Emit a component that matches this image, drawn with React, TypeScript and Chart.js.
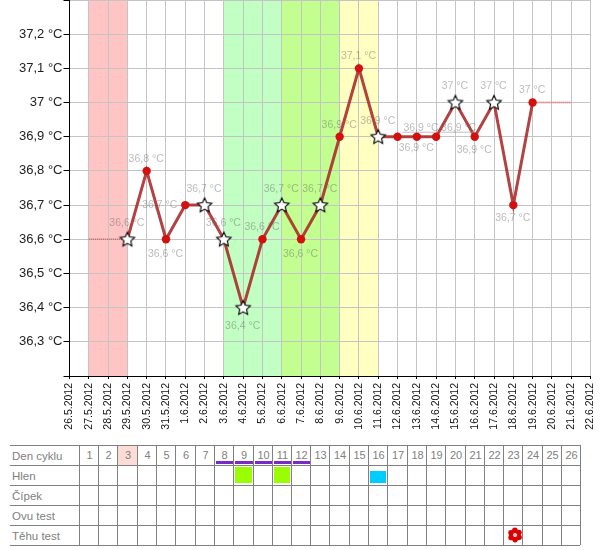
import React, { useEffect, useRef } from "react";
import { Chart, registerables } from "chart.js";

Chart.register(...registerables);

const dates = ["26.5.2012","27.5.2012","28.5.2012","29.5.2012","30.5.2012","31.5.2012","1.6.2012","2.6.2012","3.6.2012","4.6.2012","5.6.2012","6.6.2012","7.6.2012","8.6.2012","9.6.2012","10.6.2012","11.6.2012","12.6.2012","13.6.2012","14.6.2012","15.6.2012","16.6.2012","17.6.2012","18.6.2012","19.6.2012","20.6.2012","21.6.2012","22.6.2012"];
const temperatures: (number | null)[] = [null,null,null,36.6,36.8,36.6,36.7,36.7,36.6,36.4,36.6,36.7,36.6,36.7,36.9,37.1,36.9,36.9,36.9,36.9,37,36.9,37,36.7,37,null,null,null];
const starDates = ["29.5.2012","2.6.2012","3.6.2012","4.6.2012","6.6.2012","8.6.2012","11.6.2012","15.6.2012","17.6.2012"];
const dottedStart: (number | null)[] = [null,36.6,36.6,36.6,null,null,null,null,null,null,null,null,null,null,null,null,null,null,null,null,null,null,null,null,null,null,null,null];
const dottedEnd: (number | null)[] = [null,null,null,null,null,null,null,null,null,null,null,null,null,null,null,null,null,null,null,null,null,null,null,null,37,37,37,null];

const bands = [
  { from: "27.5.2012", to: "29.5.2012", color: "#ffc4c4" },
  { from: "3.6.2012", to: "6.6.2012", color: "#c2ffc2" },
  { from: "6.6.2012", to: "9.6.2012", color: "#c2ff90" },
  { from: "9.6.2012", to: "11.6.2012", color: "#ffffc2" },
];

// label placement relative to the point, by date
const labelOffsets: Record<string, [number, number]> = {
  "29.5.2012": [0, -17], "30.5.2012": [0, -13], "31.5.2012": [0, 14], "1.6.2012": [-25, -1],
  "2.6.2012": [0, -17], "3.6.2012": [0, -17], "4.6.2012": [0, 17], "5.6.2012": [0, -13],
  "6.6.2012": [0, -17], "7.6.2012": [0, 14], "8.6.2012": [0, -17], "9.6.2012": [0, -13],
  "10.6.2012": [0, -13], "11.6.2012": [0, -17], "12.6.2012": [24, -10], "13.6.2012": [0, 10],
  "14.6.2012": [23, -10], "15.6.2012": [0, -17], "16.6.2012": [0, 12], "17.6.2012": [0, -17],
  "18.6.2012": [0, 12], "19.6.2012": [0, -13],
};
const connectorDates = ["12.6.2012", "14.6.2012"];

const cycleDays = Array.from({ length: 26 }, (_, i) => i + 1);
const rowNames = ["Den cyklu", "Hlen", "Čípek", "Ovu test", "Těhu test"];
const underlinedDays = [8, 9, 10, 11, 12];
const highlightedDay = 3;
const mucusGreenDays = [9, 11];
const mucusBlueDays = [16];
const pregnancyTestDays = [23];
const columnEdges = [79,98,117,137,156,175,195,214,233,253,272,291,310,329,349,368,387,407,426,445,465,484,503,522,542,561,580];

const fmt = (v: number) => v.toFixed(1).replace(/\.0$/, "").replace(".", ",") + " °C";

function makeStar(): HTMLCanvasElement {
  const size = 18;
  const c = document.createElement("canvas");
  c.width = size;
  c.height = size;
  const g = c.getContext("2d")!;
  g.beginPath();
  for (let i = 0; i < 10; i++) {
    const r = i % 2 === 0 ? 7.6 : 3.6;
    const a = -Math.PI / 2 + (i * Math.PI) / 5;
    const px = size / 2 + r * Math.cos(a);
    const py = size / 2 + 0.5 + r * Math.sin(a);
    if (i === 0) g.moveTo(px, py);
    else g.lineTo(px, py);
  }
  g.closePath();
  g.fillStyle = "#fff";
  g.fill();
  g.strokeStyle = "#000";
  g.lineWidth = 1.1;
  g.stroke();
  return c;
}

const bandPlugin = {
  id: "bands",
  beforeDraw(chart: any) {
    const { ctx, chartArea, scales } = chart;
    ctx.save();
    for (const b of bands) {
      const x0 = scales.x.getPixelForValue(dates.indexOf(b.from));
      const x1 = scales.x.getPixelForValue(dates.indexOf(b.to));
      ctx.fillStyle = b.color;
      ctx.fillRect(x0, chartArea.top, x1 - x0, chartArea.bottom - chartArea.top);
    }
    ctx.restore();
  },
};

const labelPlugin = {
  id: "pointLabels",
  afterDatasetsDraw(chart: any) {
    const { ctx } = chart;
    const meta = chart.getDatasetMeta(0);
    ctx.save();
    ctx.font = "10.5px 'Liberation Sans'";
    ctx.textAlign = "center";
    ctx.textBaseline = "middle";
    meta.data.forEach((pt: any, i: number) => {
      const v = temperatures[i];
      if (v == null) return;
      const [dx, dy] = labelOffsets[dates[i]] ?? [0, -13];
      if (connectorDates.includes(dates[i])) {
        ctx.strokeStyle = "rgba(150,150,150,0.6)";
        ctx.lineWidth = 1;
        ctx.beginPath();
        ctx.moveTo(pt.x + 5, pt.y - 4.5);
        ctx.lineTo(pt.x + dx + 14, pt.y - 4.5);
        ctx.stroke();
      }
      ctx.fillStyle = "rgba(90,90,90,0.42)";
      ctx.fillText(fmt(v), pt.x + dx - 0.5, pt.y + dy + 1);
    });
    ctx.restore();
  },
};

export default function App() {
  const ref = useRef<HTMLCanvasElement>(null);
  useEffect(() => {
    const star = makeStar();
    const chart = new Chart(ref.current!, {
      type: "line",
      data: {
        labels: dates,
        datasets: [
          {
            data: temperatures,
            borderColor: "rgba(170,40,40,0.88)",
            borderWidth: 3,
            tension: 0,
            spanGaps: false,
            pointStyle: (c: any) => (starDates.includes(dates[c.dataIndex]) ? star : "circle"),
            pointRadius: 4.2,
            pointBackgroundColor: "#d40f0f",
            pointBorderColor: "#d40f0f",
            pointBorderWidth: 0,
          },
          {
            data: dottedStart,
            borderColor: "rgba(190,70,70,0.8)",
            borderWidth: 1.5,
            borderDash: [1, 1],
            pointRadius: 0,
          },
          {
            data: dottedEnd,
            borderColor: "rgba(230,100,100,0.8)",
            borderWidth: 2,
            borderDash: [1, 1],
            pointRadius: 0,
          },
        ],
      } as any,
      options: {
        animation: false,
        responsive: false,
        layout: { autoPadding: false, padding: { top: 0, right: 9.5, left: 0, bottom: 0 } },
        plugins: { legend: { display: false }, tooltip: { enabled: false } },
        scales: {
          x: {
            type: "category",
            offset: false,
            grid: { color: "#c4c4c4", lineWidth: 1, tickColor: "#000", tickLength: 3 },
            border: { color: "#000", width: 1 },
            ticks: {
              autoSkip: false,
              minRotation: 90,
              maxRotation: 90,
              color: "#111",
              padding: 4,
              font: { family: "'Liberation Sans'", size: 10.5 },
            },
            afterFit: (s: any) => { s.height = 64; s.paddingLeft = 0; s.paddingRight = 0; },
          },
          y: {
            min: 36.2,
            max: 37.3,
            grid: { color: "#c4c4c4", lineWidth: 1, tickColor: "#000", tickLength: 6 },
            border: { color: "#000", width: 1 },
            ticks: {
              stepSize: 0.1,
              color: "#222",
              padding: 1,
              font: { family: "'Liberation Sans'", size: 13 },
              callback: (v: any) => {
                const n = Math.round(Number(v) * 10) / 10;
                return n === 36.2 || n === 37.3 ? "" : fmt(n);
              },
            },
            afterFit: (s: any) => { s.width = 69.5; s.paddingTop = 0; s.paddingBottom = 0; },
          },
        },
      } as any,
      plugins: [bandPlugin, labelPlugin],
    });
    return () => chart.destroy();
  }, []);

  const cellBorder = "1px solid #808080";
  const rowTop = 445;
  const rowH = 20;
  return (
    <div style={{ position: "absolute", left: 0, top: 0, width: 600, height: 550, background: "#fff" }}>
      <canvas ref={ref} width={600} height={440} style={{ position: "absolute", left: 0, top: 0, display: "block" }} />
      {rowNames.map((name, r) => (
        <React.Fragment key={name}>
          <div style={{ position: "absolute", left: 10, width: 570, top: rowTop + r * rowH, height: 0, borderTop: cellBorder }} />
          <div style={{ position: "absolute", left: 12, top: rowTop + r * rowH + 1, height: 20, font: "11.5px 'Liberation Sans'", lineHeight: "20px", color: "#808080" }}>{name}</div>
        </React.Fragment>
      ))}
      <div style={{ position: "absolute", left: 10, width: 570, top: rowTop + 5 * rowH, height: 0, borderTop: cellBorder }} />
      {columnEdges.map((x) => (
        <div key={x} style={{ position: "absolute", left: x, top: rowTop, width: 0, height: 5 * rowH, borderLeft: cellBorder }} />
      ))}
      {cycleDays.map((d, i) => {
        const x = columnEdges[i];
        const w = columnEdges[i + 1] - x;
        return (
          <React.Fragment key={d}>
            {d === highlightedDay && (
              <div style={{ position: "absolute", left: x + 1, top: rowTop + 1, width: w - 1, height: rowH - 1, background: "#fcdcd4" }} />
            )}
            <div style={{ position: "absolute", left: x + 1, width: w, top: rowTop, height: 20, textAlign: "center", font: "11px 'Liberation Sans'", lineHeight: "20px", color: "#808080" }}>{d}</div>
            {underlinedDays.includes(d) && (
              <div style={{ position: "absolute", left: x + 2, top: rowTop + 16, width: w - 2, height: 3, background: "#7a2ac8" }} />
            )}
            {mucusGreenDays.includes(d) && (
              <div style={{ position: "absolute", left: x + 2, top: rowTop + rowH + 2, width: w - 3, height: 16, background: "#99ff00" }} />
            )}
            {mucusBlueDays.includes(d) && (
              <div style={{ position: "absolute", left: x + 2, top: rowTop + rowH + 6, width: w - 3, height: 12, background: "#00ccff" }} />
            )}
            {pregnancyTestDays.includes(d) && (
              <svg style={{ position: "absolute", left: x + 4, top: rowTop + 4 * rowH + 2, width: 16, height: 16 }} viewBox="0 0 16 16">
                {[0, 1, 2, 3, 4, 5].map((k) => (
                  <circle key={k} cx={8 + 4.6 * Math.cos((k * Math.PI) / 3 + 0.5)} cy={8 + 4.6 * Math.sin((k * Math.PI) / 3 + 0.5)} r={2.8} fill="#dd0000" />
                ))}
                <circle cx={8} cy={8} r={1.1} fill="#ffb0b0" />
              </svg>
            )}
          </React.Fragment>
        );
      })}
    </div>
  );
}
